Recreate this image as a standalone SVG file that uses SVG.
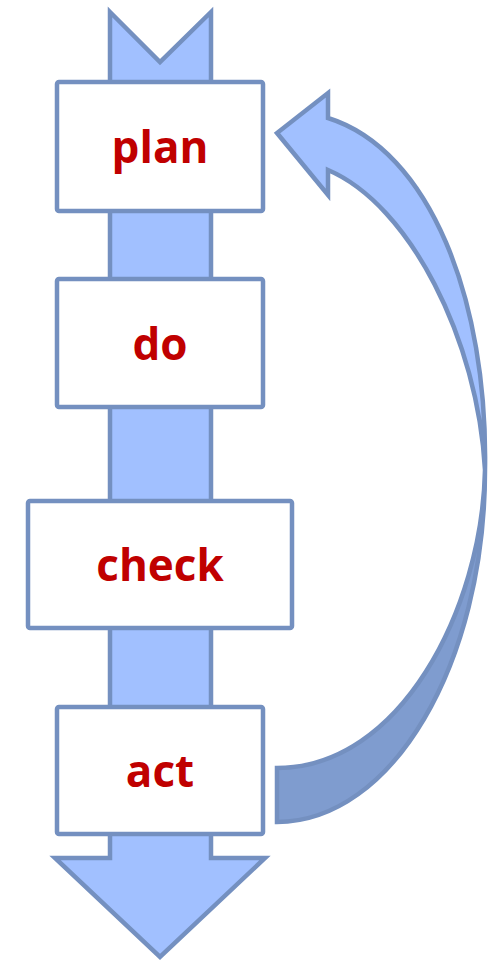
<svg xmlns="http://www.w3.org/2000/svg" width="491" height="962" viewBox="0 0 491 962">
<style>
.ln{stroke:#7490c0;stroke-width:4.5;stroke-linejoin:miter}
.lt{fill:#a1c0ff}
.dk{fill:#7f9ccf}
.box{fill:#ffffff;stroke:#7490c0;stroke-width:4.5}
.lbl{font-family:"Open Sans","Liberation Sans",sans-serif;font-weight:bold;font-size:44px;fill:#c00000;text-anchor:middle}
</style>
<g id="connectors">
<path id="main-arrow" class="ln lt" d="M110,12 L160,62 L211,12 L211,858 L265,858 L160,957 L55,858 L110,858 Z"/>
<path id="loop-back" class="ln dk" stroke-linejoin="round" d="M277,822 C392,822 485,664 485,470 C482,610 400,768 277,768 Z"/>
<path id="loop-front" class="ln lt" d="M328,118 C430,150 488,300 485,470 C478,340 410,205 328,170 L328,195 L277,133 L328,93 Z"/>
</g>
<g id="plan"><rect class="box" x="57" y="82" width="206" height="129" rx="2"/><text class="lbl" x="160" y="163">plan</text></g>
<g id="do"><rect class="box" x="57" y="279" width="206" height="128" rx="2"/><text class="lbl" x="160" y="360">do</text></g>
<g id="check"><rect class="box" x="28" y="501" width="264" height="127" rx="2"/><text class="lbl" x="160" y="581">check</text></g>
<g id="act"><rect class="box" x="57" y="707" width="206" height="127" rx="2"/><text class="lbl" x="160" y="787">act</text></g>
</svg>
